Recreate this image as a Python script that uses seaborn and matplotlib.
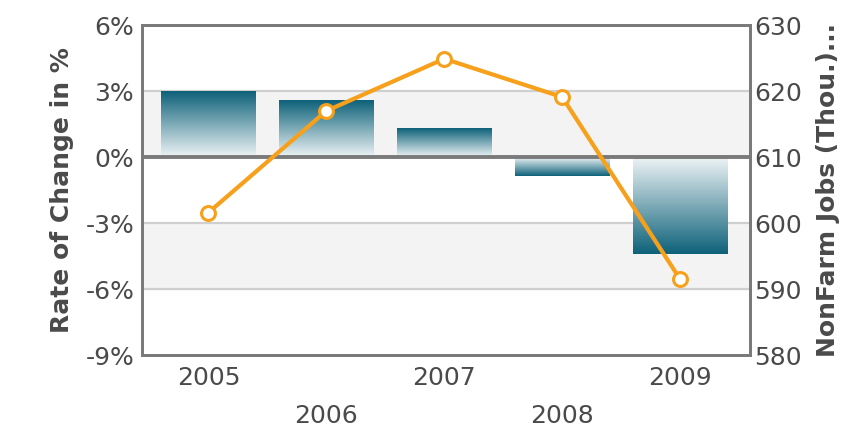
import matplotlib
matplotlib.use("Agg")
import matplotlib.pyplot as plt
from matplotlib.colors import LinearSegmentedColormap
import numpy as np
import pandas as pd
import seaborn as sns

# data
years = ["2005", "2006", "2007", "2008", "2009"]
rate_change = [3.0, 2.55, 1.3, -0.85, -4.4]          # % (bars, left axis)
nonfarm_jobs = [601.6, 617.0, 624.9, 619.1, 591.5]    # thousands (line, right axis)

left_ticks = [6, 3, 0, -3, -6, -9]
right_ticks = [630, 620, 610, 600, 590, 580]

BAR_DARK = "#0d6179"
BAR_LIGHT = "#eef4f6"
ORANGE = "#f6a01c"
FRAME = "#7a7a7a"
TEXT = "#4a4a4a"

sns.set_theme(style="white")
plt.rcParams["font.family"] = ["DejaVu Sans"]

df = pd.DataFrame({"year": years, "rate": rate_change, "jobs": nonfarm_jobs})

fig = plt.figure(figsize=(8.48, 4.33), dpi=100)
ax = fig.add_axes([0.168, 0.180, 0.716, 0.762])

# alternating background bands and grid lines
ax.axhspan(0, 3, color="#f3f3f3", zorder=0)
ax.axhspan(-6, -3, color="#f3f3f3", zorder=0)
for v in (3, -3, -6):
    ax.axhline(v, color="#cfcfcf", lw=1.6, zorder=0.5)

sns.barplot(data=df, x="year", y="rate", color=BAR_DARK, width=0.8,
            saturation=1, ax=ax, zorder=2)

# replace the flat bars with vertical gradients (dark at the value end)
cmap = LinearSegmentedColormap.from_list("bar", [BAR_LIGHT, BAR_DARK])
grad = np.linspace(0, 1, 256).reshape(-1, 1)
for patch in ax.containers[0]:
    x0, y0 = patch.get_x(), patch.get_y()
    w, h = patch.get_width(), patch.get_height()
    top, bot = max(y0, y0 + h), min(y0, y0 + h)
    img = grad if h > 0 else grad[::-1]
    ax.imshow(img, cmap=cmap, aspect="auto", origin="lower",
              extent=[x0, x0 + w, bot, top], zorder=2, interpolation="bicubic")
    patch.set_facecolor("none")
    patch.set_edgecolor("none")

ax.axhline(0, color=FRAME, lw=2.8, zorder=3)

ax.set_xlim(-0.56, len(years) - 0.41)
ax.set_ylim(-9, 6)
ax.set_yticks(left_ticks)
ax.set_yticklabels([f"{t}%" for t in left_ticks])
ax.set_xticks(range(len(years)))
ax.set_xticklabels([y if i % 2 == 0 else "\n" + y for i, y in enumerate(years)],
                   linespacing=1.75)
ax.tick_params(axis="x", length=0, pad=8, labelsize=18, labelcolor=TEXT)
ax.tick_params(axis="y", length=0, pad=6, labelsize=18, labelcolor=TEXT)
ax.set_xlabel("")
ax.set_ylabel("Rate of Change in %", fontsize=18, fontweight="bold",
              color=TEXT, labelpad=8)

# line on the secondary axis
ax2 = ax.twinx()
sns.lineplot(x=np.arange(len(years)), y=df["jobs"], ax=ax2, color=ORANGE,
             lw=3, marker="o", markersize=10, markerfacecolor="white",
             markeredgecolor=ORANGE, markeredgewidth=2.2, zorder=5)
ax2.set_ylim(580, 630)
ax2.set_yticks(right_ticks)
ax2.tick_params(axis="y", length=0, pad=3, labelsize=18, labelcolor=TEXT)
ax2.set_ylabel("NonFarm Jobs (Thou.)...", fontsize=18, fontweight="bold",
               color=TEXT, labelpad=10)

for a in (ax, ax2):
    for s in a.spines.values():
        s.set_color(FRAME)
        s.set_linewidth(2)

fig.savefig("out.png", dpi=100)
